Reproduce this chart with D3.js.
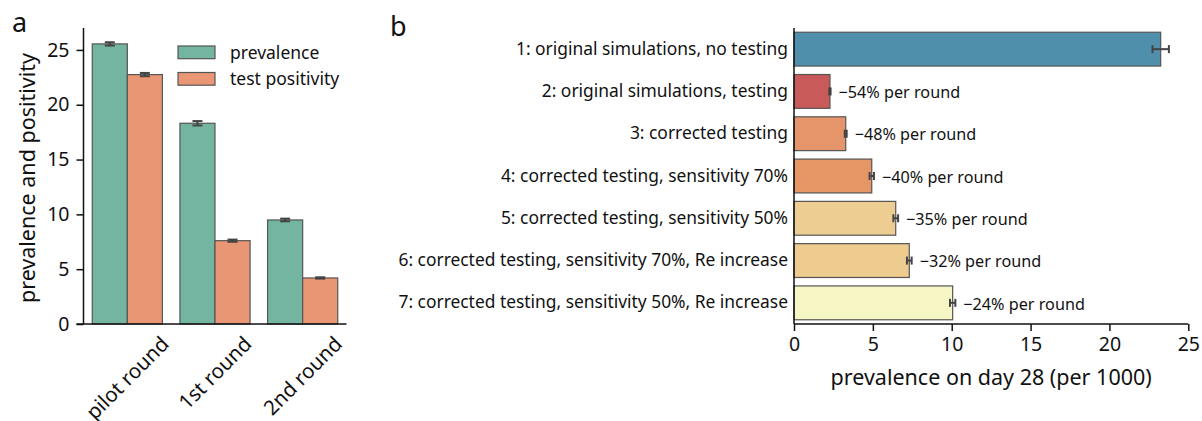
<!DOCTYPE html>
<html>
<head>
<meta charset="utf-8">
<script src="https://cdn.jsdelivr.net/npm/d3@7"></script>
<style>
  body { margin: 0; background: #fff; }
  svg text { font-family: "Noto Sans", sans-serif; fill: #111; }
</style>
</head>
<body>
<svg id="fig" width="1202" height="421"></svg>
<script>
// panel a data
const rounds = ["pilot round", "1st round", "2nd round"];
const seriesNames = ["prevalence", "test positivity"];
const prevalence = [25.55, 18.31, 9.49];
const prevalenceErr = [0.15, 0.2, 0.12];
const positivity = [22.75, 7.6, 4.2];
const positivityErr = [0.15, 0.1, 0.06];
const seriesColors = ["#73b5a1", "#e99674"];

// panel b data
const scenarios = [
  "1: original simulations, no testing",
  "2: original simulations, testing",
  "3: corrected testing",
  "4: corrected testing, sensitivity 70%",
  "5: corrected testing, sensitivity 50%",
  "6: corrected testing, sensitivity 70%, Re increase",
  "7: corrected testing, sensitivity 50%, Re increase"
];
const day28 = [23.25, 2.28, 3.28, 4.93, 6.45, 7.31, 10.06];
const day28Err = [0.52, 0.04, 0.06, 0.14, 0.15, 0.15, 0.17];
const reduction = ["", "\u221254% per round", "\u221248% per round", "\u221240% per round",
  "\u221235% per round", "\u221232% per round", "\u221224% per round"];
const scenarioColors = ["#4f8fab", "#c95a5a", "#e6956a", "#e69565", "#eecd92", "#eecb8e", "#f6f5c4"];

const svg = d3.select("#fig");
const edge = "#555";
const errColor = "#444";

// ---------- panel a ----------
const a = {left: 83.5, right: 346.5, top: 28, bottom: 324};
const ya = d3.scaleLinear().domain([0, 27]).range([a.bottom, a.top]);
const xa = d3.scaleBand().domain(rounds).range([a.left, a.right]).paddingInner(0).paddingOuter(0);
const sub = d3.scaleBand().domain(seriesNames).range([0, xa.bandwidth() * 0.8]);
const gA = svg.append("g");

const rowsA = rounds.flatMap((r, i) => [
  {round: r, s: seriesNames[0], v: prevalence[i], e: prevalenceErr[i], c: seriesColors[0]},
  {round: r, s: seriesNames[1], v: positivity[i], e: positivityErr[i], c: seriesColors[1]}
]);
const barX = d => xa(d.round) + xa.bandwidth() * 0.1 + sub(d.s);

gA.selectAll("rect.bar").data(rowsA).join("rect")
  .attr("class", "bar")
  .attr("x", barX)
  .attr("y", d => ya(d.v))
  .attr("width", sub.bandwidth())
  .attr("height", d => ya(0) - ya(d.v))
  .attr("fill", d => d.c)
  .attr("stroke", edge).attr("stroke-width", 1.2);

const errA = gA.selectAll("g.err").data(rowsA).join("g").attr("class", "err")
  .attr("stroke", errColor).attr("stroke-width", 2);
errA.append("line")
  .attr("x1", d => barX(d) + sub.bandwidth() / 2).attr("x2", d => barX(d) + sub.bandwidth() / 2)
  .attr("y1", d => ya(d.v - d.e)).attr("y2", d => ya(d.v + d.e));
errA.append("line")
  .attr("x1", d => barX(d) + sub.bandwidth() / 2 - 5).attr("x2", d => barX(d) + sub.bandwidth() / 2 + 5)
  .attr("y1", d => ya(d.v - d.e)).attr("y2", d => ya(d.v - d.e));
errA.append("line")
  .attr("x1", d => barX(d) + sub.bandwidth() / 2 - 5).attr("x2", d => barX(d) + sub.bandwidth() / 2 + 5)
  .attr("y1", d => ya(d.v + d.e)).attr("y2", d => ya(d.v + d.e));

const yAxisA = gA.append("g").attr("transform", `translate(${a.left},0)`)
  .call(d3.axisLeft(ya).tickValues([0, 5, 10, 15, 20, 25]).tickSize(7).tickPadding(7));
const xAxisA = gA.append("g").attr("transform", `translate(0,${a.bottom})`)
  .call(d3.axisBottom(xa).tickSize(0).tickFormat(""));
[yAxisA, xAxisA].forEach(g => {
  g.select(".domain").attr("stroke", "#111").attr("stroke-width", 1.5);
  g.selectAll(".tick line").attr("stroke", "#111").attr("stroke-width", 1.5);
  g.selectAll(".tick text").attr("font-size", 19.5).attr("fill", "#111");
});
yAxisA.select(".domain").attr("d", `M0,${a.bottom}V${a.top}`);
xAxisA.select(".domain").attr("d", `M${a.left - 7},0H${a.right}`);

// rotated round labels: top of rotated box sits just below the axis
const rlabSize = 20.5;
gA.selectAll("text.rlab").data(rounds).join("text")
  .attr("class", "rlab")
  .attr("text-anchor", "middle")
  .attr("dy", "0.35em")
  .attr("font-size", rlabSize)
  .text(d => d)
  .attr("transform", function(d) {
    const w = this.getComputedTextLength();
    const h = rlabSize * 1.0;
    const cyy = a.bottom + 9 + (w + h) / (2 * Math.SQRT2);
    return `translate(${xa(d) + xa.bandwidth() / 2},${cyy}) rotate(-45)`;
  });

gA.append("text")
  .attr("transform", `translate(${27},${(a.top + a.bottom) / 2 + 2}) rotate(-90)`)
  .attr("text-anchor", "middle")
  .attr("dy", "0.35em")
  .attr("font-size", 21.5)
  .text("prevalence and positivity");

// legend
const legA = gA.append("g").attr("transform", "translate(178,46)");
seriesNames.forEach((s, i) => {
  legA.append("rect").attr("x", 0).attr("y", i * 26.5).attr("width", 37).attr("height", 12.7)
    .attr("fill", seriesColors[i]).attr("stroke", edge).attr("stroke-width", 1.2);
  legA.append("text").attr("x", 52).attr("y", i * 26.5 + 6.5).attr("dy", "0.35em")
    .attr("font-size", 17.5).text(s);
});

gA.append("text").attr("x", 12).attr("y", 32).attr("font-size", 27).text("a");

// ---------- panel b ----------
const b = {left: 794, right: 1188.3, top: 28, bottom: 324};
const xb = d3.scaleLinear().domain([0, 25]).range([b.left, b.right]);
const yb = d3.scaleBand().domain(scenarios).range([b.top, b.bottom]).paddingInner(0.2).paddingOuter(0.1);
const gB = svg.append("g");
const rowsB = scenarios.map((s, i) => ({s, v: day28[i], e: day28Err[i], c: scenarioColors[i], r: reduction[i]}));

gB.selectAll("rect.bar").data(rowsB).join("rect")
  .attr("class", "bar")
  .attr("x", xb(0))
  .attr("y", d => yb(d.s))
  .attr("width", d => xb(d.v) - xb(0))
  .attr("height", yb.bandwidth())
  .attr("fill", d => d.c)
  .attr("stroke", edge).attr("stroke-width", 1.2);

const errB = gB.selectAll("g.err").data(rowsB).join("g").attr("class", "err")
  .attr("stroke", errColor).attr("stroke-width", 2);
const cy = d => yb(d.s) + yb.bandwidth() / 2;
errB.append("line")
  .attr("x1", d => xb(d.v - d.e)).attr("x2", d => xb(d.v + d.e))
  .attr("y1", cy).attr("y2", cy);
errB.append("line")
  .attr("x1", d => xb(d.v - d.e)).attr("x2", d => xb(d.v - d.e))
  .attr("y1", d => cy(d) - 4).attr("y2", d => cy(d) + 4);
errB.append("line")
  .attr("x1", d => xb(d.v + d.e)).attr("x2", d => xb(d.v + d.e))
  .attr("y1", d => cy(d) - 4).attr("y2", d => cy(d) + 4);

gB.selectAll("text.red").data(rowsB.filter(d => d.r)).join("text")
  .attr("class", "red")
  .attr("x", d => xb(d.v + d.e) + 8)
  .attr("y", d => cy(d) + 1)
  .attr("dy", "0.35em")
  .attr("font-size", 16.2)
  .text(d => d.r);

const yAxisB = gB.append("g").attr("transform", `translate(${b.left},0)`)
  .call(d3.axisLeft(yb).tickSize(0).tickPadding(6));
const xAxisB = gB.append("g").attr("transform", `translate(0,${b.bottom})`)
  .call(d3.axisBottom(xb).tickValues([0, 5, 10, 15, 20, 25]).tickSize(7).tickPadding(6));
[yAxisB, xAxisB].forEach(g => {
  g.select(".domain").attr("stroke", "#111").attr("stroke-width", 1.5);
  g.selectAll(".tick line").attr("stroke", "#111").attr("stroke-width", 1.5);
});
yAxisB.selectAll(".tick text").attr("font-size", 17.4).attr("fill", "#111");
xAxisB.selectAll(".tick text").attr("font-size", 19.5).attr("fill", "#111");
yAxisB.select(".domain").attr("d", `M0,${b.bottom}V${b.top}`);
xAxisB.select(".domain").attr("d", `M${b.left},0H${b.right}`);

gB.append("text")
  .attr("x", (b.left + b.right) / 2).attr("y", 385)
  .attr("text-anchor", "middle").attr("font-size", 21.5)
  .text("prevalence on day 28 (per 1000)");

gB.append("text").attr("x", 390).attr("y", 36).attr("font-size", 27).text("b");
</script>
</body>
</html>
